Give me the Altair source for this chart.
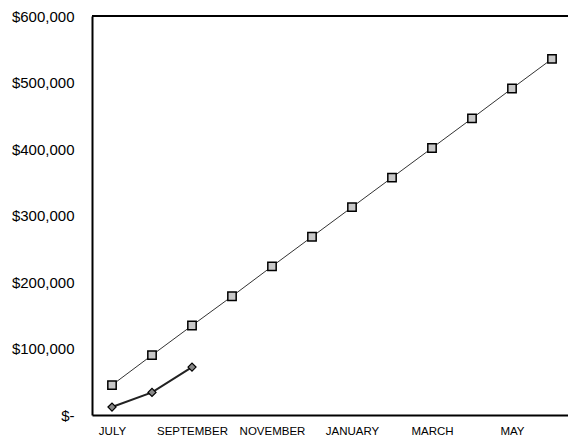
import altair as alt
import pandas as pd

months = ["JULY", "AUGUST", "SEPTEMBER", "OCTOBER", "NOVEMBER", "DECEMBER",
          "JANUARY", "FEBRUARY", "MARCH", "APRIL", "MAY", "JUNE"]
projected = [45000, 90000, 134500, 178500, 223500, 268000,
             312500, 357000, 401500, 446000, 491000, 535500]
actual = [12000, 34000, 72000]

df_proj = pd.DataFrame({"idx": list(range(len(projected))),
                        "month": months[:len(projected)],
                        "value": projected})
df_act = pd.DataFrame({"idx": list(range(len(actual))),
                       "month": months[:len(actual)],
                       "value": actual})

label_map = "{" + ",".join(f"'{i}':'{m}'" for i, m in enumerate(months)) + "}"

x_enc = alt.X("idx:Q",
              scale=alt.Scale(domain=[-0.5, 11.4], nice=False, zero=False),
              axis=alt.Axis(values=[0, 2, 4, 6, 8, 10],
                            labelExpr=f"{label_map}[datum.value + '']",
                            title=None, grid=False, ticks=False,
                            domainColor="black", domainWidth=2,
                            labelFont="Liberation Sans", labelFontSize=11.5,
                            labelColor="black", labelPadding=10))
y_enc = alt.Y("value:Q",
              scale=alt.Scale(domain=[0, 600000], nice=False),
              axis=alt.Axis(values=[0, 100000, 200000, 300000, 400000, 500000, 600000],
                            labelExpr="datum.value == 0 ? '$-' : '$' + format(datum.value, ',.0f')",
                            title=None, grid=False, ticks=False,
                            domainColor="black", domainWidth=2,
                            labelFont="Liberation Sans", labelFontSize=15,
                            labelColor="black", labelPadding=18))

proj_line = alt.Chart(df_proj).mark_line(color="#333333", strokeWidth=1).encode(x=x_enc, y=y_enc)
proj_pts = alt.Chart(df_proj).mark_point(shape="square", filled=True, size=70,
                                         fill="#c8c8c8", stroke="black",
                                         strokeWidth=1.5, opacity=1).encode(x="idx:Q", y="value:Q")
act_line = alt.Chart(df_act).mark_line(color="#222222", strokeWidth=2).encode(x="idx:Q", y="value:Q")
act_pts = alt.Chart(df_act).mark_point(shape="diamond", filled=True, size=65,
                                       fill="#888888", stroke="black",
                                       strokeWidth=1.2, opacity=1).encode(x="idx:Q", y="value:Q")

top_border = alt.Chart(pd.DataFrame({"top": [600000]})).mark_rule(
    color="black", strokeWidth=2).encode(y="top:Q")

chart = alt.layer(top_border, proj_line, act_line, proj_pts, act_pts).properties(
    width=476, height=399,
    autosize=alt.AutoSizeParams(type="none"),
    padding={"left": 92, "top": 16, "right": 0, "bottom": 24},
    background="white",
).configure_view(strokeWidth=0)

chart.save("out.html", embed_options={"renderer": "svg", "actions": False})
